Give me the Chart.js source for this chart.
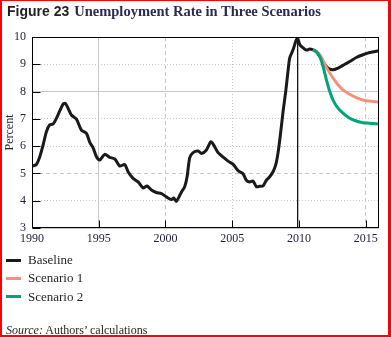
<!DOCTYPE html>
<html>
<head>
<meta charset="utf-8">
<script src="https://cdn.jsdelivr.net/npm/chart.js@4"></script>
<style>
  html, body { margin: 0; padding: 0; background: #fff; }
  #wrap { position: relative; width: 391px; height: 337px; overflow: hidden; background: #fff; }
  #chart { position: absolute; left: 0; top: 0; }
  #frame { position: absolute; left: 0; top: 0; width: 391px; height: 337px; box-sizing: border-box;
           border-style: solid; border-color: #f00; border-width: 1px 3px 2px 2px; pointer-events: none; }
  .title { position: absolute; left: 7px; top: 2px; white-space: nowrap; }
  .fig { font: bold 14px "Liberation Sans", Arial, sans-serif; color: #231f20; }
  .ttl { font: bold 14.5px "Liberation Serif", "DejaVu Serif", serif; color: #2b2b52; margin-left: 5px; }
  #legend { position: absolute; left: 6px; top: 251px; font: 13px "Liberation Serif", "DejaVu Serif", serif; color: #231f20; }
  .item { height: 18.3px; display: flex; align-items: center; }
  .swatch { width: 15px; height: 3px; margin-right: 7px; }
  #source { position: absolute; left: 6px; top: 323px; font: 12px "Liberation Serif", "DejaVu Serif", serif; color: #231f20; white-space: nowrap; }
</style>
</head>
<body>
<div id="wrap">
  <canvas id="chart" width="391" height="337"></canvas>
  <div class="title"><span class="fig">Figure 23</span><span class="ttl">Unemployment Rate in Three Scenarios</span></div>
  <div id="legend"></div>
  <div id="source"><i>Source:</i> Authors’ calculations</div>
  <div id="frame"></div>
</div>
<script>
// Historical unemployment rate (percent), sampled through time
const historyYears = [
  1990.0, 1990.33, 1990.58, 1990.83, 1991.08, 1991.33, 1991.58, 1991.83, 1992.08, 1992.33,
  1992.5, 1992.7, 1992.95, 1993.33, 1993.7, 1994.08, 1994.33, 1994.58, 1994.83, 1995.07,
  1995.45, 1995.82, 1996.2, 1996.57, 1996.95, 1997.2, 1997.57, 1997.95, 1998.32, 1998.62,
  1998.95, 1999.32, 1999.7, 2000.07, 2000.45, 2000.62, 2000.82, 2001.2, 2001.44, 2001.62,
  2001.82, 2002.07, 2002.45, 2002.7, 2003.07, 2003.4, 2003.62, 2003.94, 2004.3, 2004.69,
  2005.06, 2005.44, 2005.81, 2006.06, 2006.31, 2006.56, 2006.82, 2007.06, 2007.31, 2007.56,
  2007.81, 2008.06, 2008.26, 2008.43, 2008.61, 2008.81, 2009.01, 2009.18, 2009.31, 2009.56,
  2009.76, 2009.89, 2010.07, 2010.32, 2010.56, 2010.81
];
const historyRates = [
  5.27, 5.33, 5.61, 6.04, 6.53, 6.78, 6.81, 7.02, 7.29, 7.54,
  7.57, 7.39, 7.14, 6.99, 6.59, 6.47, 6.14, 5.94, 5.61, 5.49,
  5.70, 5.59, 5.53, 5.27, 5.33, 5.06, 4.82, 4.69, 4.47, 4.54,
  4.39, 4.30, 4.26, 4.14, 4.04, 4.10, 3.98, 4.32, 4.51, 4.88,
  5.58, 5.76, 5.82, 5.73, 5.86, 6.16, 6.04, 5.76, 5.61, 5.45,
  5.34, 5.10, 4.99, 4.75, 4.69, 4.72, 4.51, 4.53, 4.54, 4.75,
  4.88, 5.06, 5.31, 5.74, 6.41, 7.26, 8.00, 8.74, 9.23, 9.53,
  9.84, 9.96, 9.72, 9.60, 9.52, 9.56
];

// Projection paths from 2011 onward
const forecastYears   = [2011.06, 2011.31, 2011.56, 2011.81, 2012.06, 2012.31, 2012.56, 2012.93, 2013.3, 2013.81, 2014.3, 2014.8, 2015.3, 2016.0];
const baselineRates   = [9.53, 9.47, 9.29, 9.10, 8.92, 8.82, 8.80, 8.86, 8.96, 9.10, 9.25, 9.35, 9.43, 9.50];
const scenario1Rates  = [9.53, 9.45, 9.35, 9.13, 8.88, 8.68, 8.49, 8.25, 8.06, 7.90, 7.78, 7.69, 7.65, 7.61];
const scenario2Rates  = [9.53, 9.45, 9.29, 8.92, 8.43, 8.00, 7.69, 7.39, 7.21, 7.02, 6.92, 6.86, 6.84, 6.81];

const markerYear = 2009.9;           // peak of the recession, marked by a vertical rule
const xTicks = [1990, 1995, 2000, 2005, 2010, 2015];
const yTicks = [3, 4, 5, 6, 7, 8, 9, 10];

const seriesNames = ['Baseline', 'Scenario 1', 'Scenario 2'];
const seriesColors = ['#1a1a1a', '#f4907c', '#00a37a'];

const toPoints = (xs, ys) => xs.map((x, i) => ({ x, y: ys[i] }));

const serif = "'Liberation Serif', 'DejaVu Serif', serif";
const textColor = '#1f1f3a';

// Gridline patterns per tick value
const xGridDash = { 1995: [], 2000: [4, 3], 2005: [1, 2], 2010: [], 2015: [4, 3] };
const yGridDash = { 4: [1, 2], 5: [4, 3], 6: [1, 2], 7: [1, 2], 8: [], 9: [1, 2] };

// Plot frame and inward tick marks
const frameAndTicks = {
  id: 'frameAndTicks',
  afterDatasetsDraw(chart) {
    const { ctx, chartArea: a, scales: { x, y } } = chart;
    const L = Math.round(a.left) + 0.5, R = Math.round(a.right) - 0.5;
    const T = Math.round(a.top) + 0.5, B = Math.round(a.bottom) - 0.5;
    ctx.save();
    ctx.strokeStyle = '#000';
    ctx.lineWidth = 1;
    ctx.strokeRect(L, T, R - L, B - T);
    ctx.beginPath();
    yTicks.forEach(v => {
      const py = Math.round(y.getPixelForValue(v)) + 0.5;
      ctx.moveTo(L, py); ctx.lineTo(L + 8, py);
    });
    xTicks.forEach(v => {
      const px = Math.round(x.getPixelForValue(v)) + 0.5;
      ctx.moveTo(px, B); ctx.lineTo(px, B - 7);
    });
    ctx.stroke();
    ctx.restore();
  }
};

const chart = new Chart(document.getElementById('chart'), {
  type: 'line',
  data: {
    datasets: [
      {
        label: 'marker',
        data: [{ x: markerYear, y: 3 }, { x: markerYear, y: 10 }],
        borderColor: '#000', borderWidth: 1, pointRadius: 0, order: 5
      },
      {
        label: seriesNames[0],
        data: toPoints(historyYears.concat(forecastYears), historyRates.concat(baselineRates)),
        borderColor: seriesColors[0], borderWidth: 3, pointRadius: 0,
        tension: 0.25, order: 3
      },
      {
        label: seriesNames[1],
        data: toPoints(forecastYears, scenario1Rates),
        borderColor: seriesColors[1], borderWidth: 3, pointRadius: 0,
        cubicInterpolationMode: 'monotone', order: 2
      },
      {
        label: seriesNames[2],
        data: toPoints(forecastYears, scenario2Rates),
        borderColor: seriesColors[2], borderWidth: 3, pointRadius: 0,
        cubicInterpolationMode: 'monotone', order: 1
      }
    ]
  },
  options: {
    responsive: false,
    animation: false,
    events: [],
    layout: { padding: { top: 37, right: 12, left: 0, bottom: 0 } },
    plugins: { legend: { display: false }, tooltip: { enabled: false } },
    scales: {
      x: {
        type: 'linear', min: 1990, max: 2016,
        afterBuildTicks: s => { s.ticks = xTicks.map(v => ({ value: v })); },
        afterFit: s => { s.height = 109; },
        ticks: {
          padding: 4, color: textColor, maxRotation: 0,
          font: { family: serif, size: 12 },
          callback: v => String(v)
        },
        grid: { color: '#c8c8c8', lineWidth: 1, drawTicks: false },
        border: { display: false, dash: c => (c.tick ? (xGridDash[c.tick.value] || []) : []) }
      },
      y: {
        min: 3, max: 10,
        afterBuildTicks: s => { s.ticks = yTicks.map(v => ({ value: v })); },
        afterFit: s => { s.width = 32; },
        ticks: {
          padding: 6, color: textColor,
          font: { family: serif, size: 12 },
          callback: v => String(v)
        },
        title: {
          display: true, text: 'Percent', color: textColor,
          font: { family: serif, size: 12 }, padding: { top: 3, bottom: 0 }
        },
        grid: { color: '#c8c8c8', lineWidth: 1, drawTicks: false },
        border: { display: false, dash: c => (c.tick ? (yGridDash[c.tick.value] || []) : []) }
      }
    }
  },
  plugins: [frameAndTicks]
});

// Legend list built from the chart's own series
const legend = document.getElementById('legend');
seriesNames.forEach((name, i) => {
  const item = document.createElement('div');
  item.className = 'item';
  const sw = document.createElement('span');
  sw.className = 'swatch';
  sw.style.background = seriesColors[i];
  const label = document.createElement('span');
  label.textContent = name;
  item.appendChild(sw);
  item.appendChild(label);
  legend.appendChild(item);
});
</script>
</body>
</html>
